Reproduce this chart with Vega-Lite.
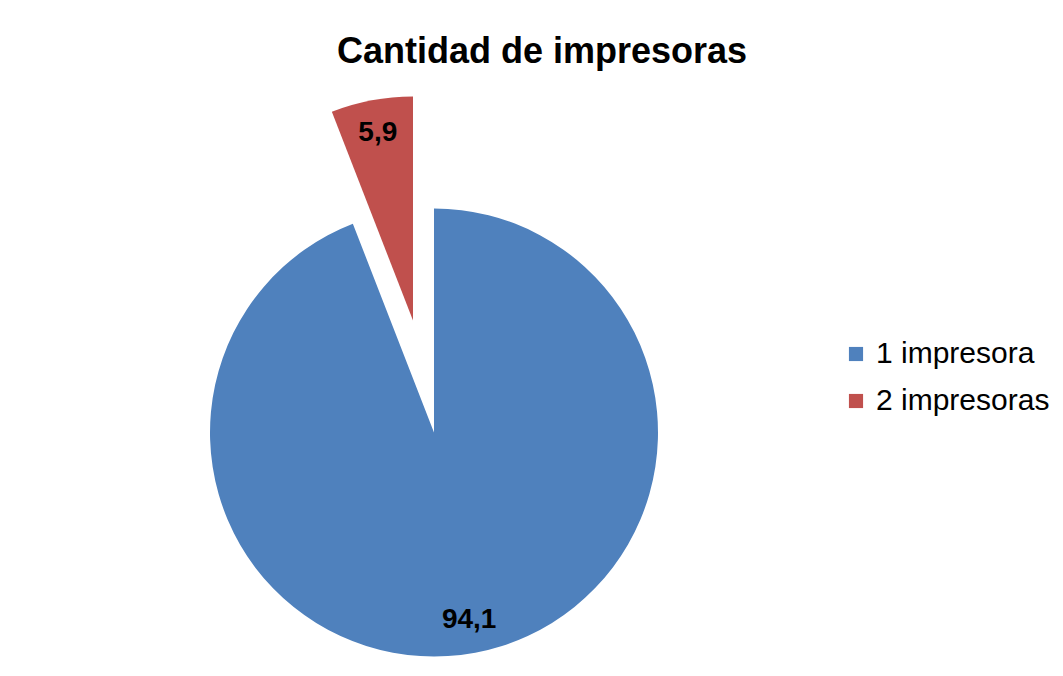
{
  "$schema": "https://vega.github.io/schema/vega-lite/v6.json",
  "autosize": {"type": "none"},
  "padding": {"left": 0, "top": 200, "right": 195, "bottom": 11},
  "width": 868,
  "height": 465,
  "background": "white",
  "config": {"view": {"stroke": null}, "font": "Liberation Sans"},
  "title": {
    "text": "Cantidad de impresoras",
    "font": "Liberation Sans",
    "fontSize": 36,
    "fontWeight": "bold",
    "color": "black",
    "anchor": "middle",
    "frame": "group",
    "baseline": "alphabetic",
    "offset": -2,
    "dx": 108
  },
  "data": {
    "values": [
      {"cat": "1 impresora", "pct": 94.1, "label": "94,1"},
      {"cat": "2 impresoras", "pct": 5.9, "label": "5,9"}
    ]
  },
  "layer": [
    {
      "mark": {"type": "arc", "radius": 224, "stroke": null},
      "encoding": {
        "theta": {"field": "pct", "type": "quantitative", "stack": true},
        "order": {"field": "cat", "sort": "ascending"},
        "color": {
          "field": "cat", "type": "nominal",
          "scale": {"domain": ["1 impresora", "2 impresoras"], "range": ["#4F81BD", "#C0504D"]},
          "legend": {
            "title": null, "orient": "none", "legendX": 841, "legendY": 139,
            "symbolType": "square", "symbolSize": 200, "symbolStrokeWidth": 0, "symbolOpacity": 1,
            "labelFont": "Liberation Sans", "labelFontSize": 30, "labelColor": "black", "labelLimit": 300,
            "labelOffset": 5, "rowPadding": 17
          }
        },
        "fillOpacity": {"condition": {"test": "datum.cat === '2 impresoras'", "value": 0}, "value": 1}
      }
    },
    {
      "mark": {"type": "arc", "radius": 224, "stroke": null, "xOffset": -21, "yOffset": -112},
      "encoding": {
        "theta": {"field": "pct", "type": "quantitative", "stack": true},
        "order": {"field": "cat", "sort": "ascending"},
        "color": {"field": "cat", "type": "nominal"},
        "fillOpacity": {"condition": {"test": "datum.cat === '2 impresoras'", "value": 1}, "value": 0}
      }
    },
    {
      "mark": {"type": "text", "font": "Liberation Sans", "fontSize": 28, "fontWeight": "bold", "color": "black", "baseline": "middle", "align": "center"},
      "encoding": {
        "theta": {"field": "pct", "type": "quantitative", "stack": true},
        "order": {"field": "cat", "sort": "ascending"},
        "radius": {"value": 191},
        "text": {"field": "label"},
        "opacity": {"condition": {"test": "datum.cat === '2 impresoras'", "value": 0}, "value": 1}
      }
    },
    {
      "mark": {"type": "text", "font": "Liberation Sans", "fontSize": 28, "fontWeight": "bold", "color": "black", "baseline": "middle", "align": "center", "xOffset": -21, "yOffset": -112},
      "encoding": {
        "theta": {"field": "pct", "type": "quantitative", "stack": true},
        "order": {"field": "cat", "sort": "ascending"},
        "radius": {"value": 191},
        "text": {"field": "label"},
        "opacity": {"condition": {"test": "datum.cat === '2 impresoras'", "value": 1}, "value": 0}
      }
    }
  ]
}
